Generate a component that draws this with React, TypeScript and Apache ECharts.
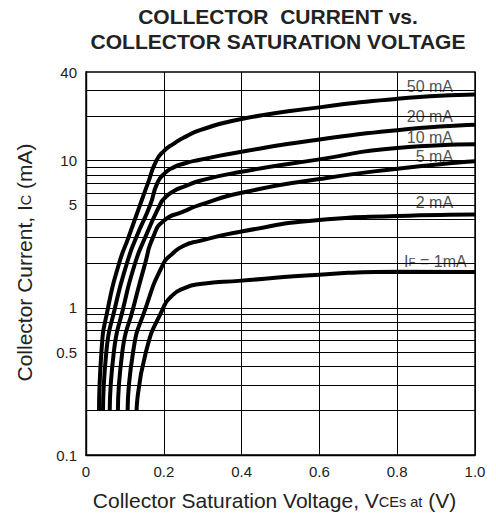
import React, { useEffect, useRef } from 'react';
import * as echarts from 'echarts';

const FONT = '"Liberation Sans", Arial, Helvetica, sans-serif';
const INK = '#222';

// Curves: collector-emitter saturation voltage (V) vs collector current (mA)
const v50 = [0.0334, 0.0396, 0.0566, 0.085, 0.109, 0.139, 0.159, 0.181, 0.2, 0.225, 0.255, 0.293, 0.4, 0.6, 0.8, 1.0];
const i50 = [0.2, 0.5, 1, 2, 3, 5, 7, 10, 11.6, 13, 14.5, 16.1, 19.2, 23, 26.3, 28.1];

const v20 = [0.0437, 0.0522, 0.0746, 0.105, 0.129, 0.165, 0.183, 0.2, 0.225, 0.255, 0.29, 0.4, 0.6, 0.8, 1.0];
const i20 = [0.2, 0.5, 1, 2, 3, 5, 7, 8.1, 9.0, 9.6, 10.1, 11.5, 13.9, 16.1, 17.5];

const v10 = [0.061, 0.0715, 0.0959, 0.126, 0.152, 0.19, 0.2, 0.225, 0.255, 0.293, 0.4, 0.6, 0.8, 1.0];
const i10 = [0.2, 0.5, 1, 2, 3, 5, 5.5, 6.2, 6.7, 7.3, 8.4, 10.2, 12.2, 12.9];

const v5 = [0.082, 0.0933, 0.1216, 0.152, 0.172, 0.2, 0.25, 0.293, 0.4, 0.6, 0.8, 1.0];
const i5 = [0.2, 0.5, 1, 2, 3, 3.9, 4.5, 5.0, 6.05, 7.5, 8.8, 9.9];

const v2 = [0.107, 0.121, 0.1535, 0.199, 0.22, 0.25, 0.293, 0.4, 0.6, 0.8, 1.0];
const i2 = [0.2, 0.5, 1, 2, 2.3, 2.63, 2.85, 3.3, 3.95, 4.2, 4.3];

const v1 = [0.13, 0.154, 0.1987, 0.22, 0.25, 0.293, 0.4, 0.6, 0.8, 1.0];
const i1 = [0.2, 0.5, 1, 1.2, 1.35, 1.45, 1.53, 1.68, 1.76, 1.75];

const curveNames = ['50 mA', '20 mA', '10 mA', '5 mA', '2 mA', '1 mA'];
const curveV = [v50, v20, v10, v5, v2, v1];
const curveI = [i50, i20, i10, i5, i2, i1];

// Curve annotations
const labelTexts = ['50 mA', '20 mA', '10 mA', '5 mA', '2 mA', '{n|I}{s|F}{n| = 1mA}'];
const labelX = [0.95, 0.95, 0.95, 0.95, 0.95, 0.985];
const labelY = [32.1, 19.8, 14.3, 10.7, 5.2, 2.06];

// Axes
const yTickValues = [0.1, 0.5, 1, 5, 10, 40];
const yGridValues = [0.2, 0.3, 0.4, 0.5, 0.6, 0.7, 0.8, 0.9, 1, 2, 3, 4, 5, 6, 7, 8, 9, 10, 20, 30];
const xMin = 0;
const xMax = 1.0;
const xInterval = 0.2;
const yMin = 0.1;
const yMax = 40;

const title = 'COLLECTOR  CURRENT vs.\nCOLLECTOR SATURATION VOLTAGE';

export default function App() {
  const ref = useRef<HTMLDivElement>(null);

  useEffect(() => {
    if (!ref.current) return;
    const chart = echarts.init(ref.current, undefined, { renderer: 'svg' });

    const allY = Array.from(new Set([...yGridValues, ...yTickValues])).sort((a, b) => a - b);
    const markData = allY.map((v) => {
      const isTick = yTickValues.includes(v);
      const isGrid = yGridValues.includes(v);
      return {
        yAxis: v,
        lineStyle: { color: isGrid ? '#000' : 'rgba(0,0,0,0)', width: 1, type: 'solid' },
        label: {
          show: isTick,
          position: 'start',
          distance: 9,
          formatter: String(v),
          fontSize: 15,
          color: INK,
          fontFamily: FONT,
        },
      };
    });

    const curveSeries = curveNames.map((name, k) => ({
      type: 'line',
      name,
      data: curveV[k].map((v, j) => [v, curveI[k][j]]),
      showSymbol: false,
      symbol: 'none',
      smooth: 0.6,
      lineStyle: { color: '#000', width: 4 },
      z: 5,
      silent: true,
    }));

    const nameRich = {
      n: { fontSize: 21, color: INK, fontFamily: FONT, verticalAlign: 'bottom', lineHeight: 24 },
      s: { fontSize: 14.5, color: INK, fontFamily: FONT, verticalAlign: 'bottom', lineHeight: 24, padding: [0, 0, 2, 0] },
    };

    const option: any = {
      animation: false,
      backgroundColor: '#fff',
      graphic: [
        {
          type: 'text',
          x: 278,
          y: 4,
          style: {
            text: title,
            textAlign: 'center',
            fontSize: 21,
            fontWeight: 'bold',
            lineHeight: 25,
            fill: INK,
            fontFamily: FONT,
          },
        },
      ],
      grid: {
        left: 86,
        right: 21,
        top: 72,
        bottom: 59,
        show: true,
        borderColor: '#000',
        borderWidth: 1.4,
        backgroundColor: 'transparent',
      },
      xAxis: {
        type: 'value',
        min: xMin,
        max: xMax,
        interval: xInterval,
        axisLine: { show: true, lineStyle: { color: '#000', width: 1.4 } },
        axisTick: { show: false },
        splitLine: { show: true, lineStyle: { color: '#000', width: 1 } },
        axisLabel: {
          fontSize: 15,
          color: INK,
          fontFamily: FONT,
          margin: 9,
          formatter: (v: number) => (v === 0 ? '0' : v.toFixed(1)),
        },
        name: '{n|Collector Saturation Voltage, V}{s|CEs at}{n| (V)}',
        nameLocation: 'middle',
        nameGap: 32,
        nameTextStyle: {
          padding: [0, 12, 0, 0],
          rich: nameRich,
        },
      },
      yAxis: {
        type: 'log',
        logBase: 10,
        min: yMin,
        max: yMax,
        axisLine: { show: true, lineStyle: { color: '#000', width: 1.4 } },
        axisTick: { show: false },
        splitLine: { show: false },
        axisLabel: { show: false },
        name: '{n|Collector Current, I}{s|C}{n| (mA)}',
        nameLocation: 'middle',
        nameGap: 51,
        nameTextStyle: {
          padding: [0, 0, 0, 2],
          rich: nameRich,
        },
      },
      series: [
        {
          type: 'line',
          name: 'grid',
          data: [[0.5, 1]],
          symbol: 'none',
          lineStyle: { width: 0, opacity: 0 },
          silent: true,
          z: 1,
          markLine: {
            silent: true,
            symbol: ['none', 'none'],
            animation: false,
            data: markData,
          },
        },
        {
          type: 'scatter',
          name: 'labels',
          data: labelX.map((x, i) => [x, labelY[i]]),
          symbolSize: 1,
          itemStyle: { color: 'rgba(0,0,0,0)' },
          silent: true,
          z: 3,
          label: {
            show: true,
            position: 'left',
            distance: 0,
            formatter: (p: any) => labelTexts[p.dataIndex],
            fontSize: 16,
            lineHeight: 16,
            color: INK,
            fontFamily: FONT,
            backgroundColor: '#fff',
            padding: [0, 2],
            rich: {
              n: { fontSize: 16, color: INK, fontFamily: FONT, verticalAlign: 'bottom', lineHeight: 16 },
              s: { fontSize: 11.5, color: INK, fontFamily: FONT, verticalAlign: 'bottom', lineHeight: 16, padding: [0, 0, 1.5, 0] },
            },
          },
        },
        ...curveSeries,
      ],
    };

    chart.setOption(option);
    return () => chart.dispose();
  }, []);

  return (
    <div
      ref={ref}
      style={{ position: 'fixed', left: 0, top: 0, width: 496, height: 516, background: '#fff' }}
    />
  );
}
